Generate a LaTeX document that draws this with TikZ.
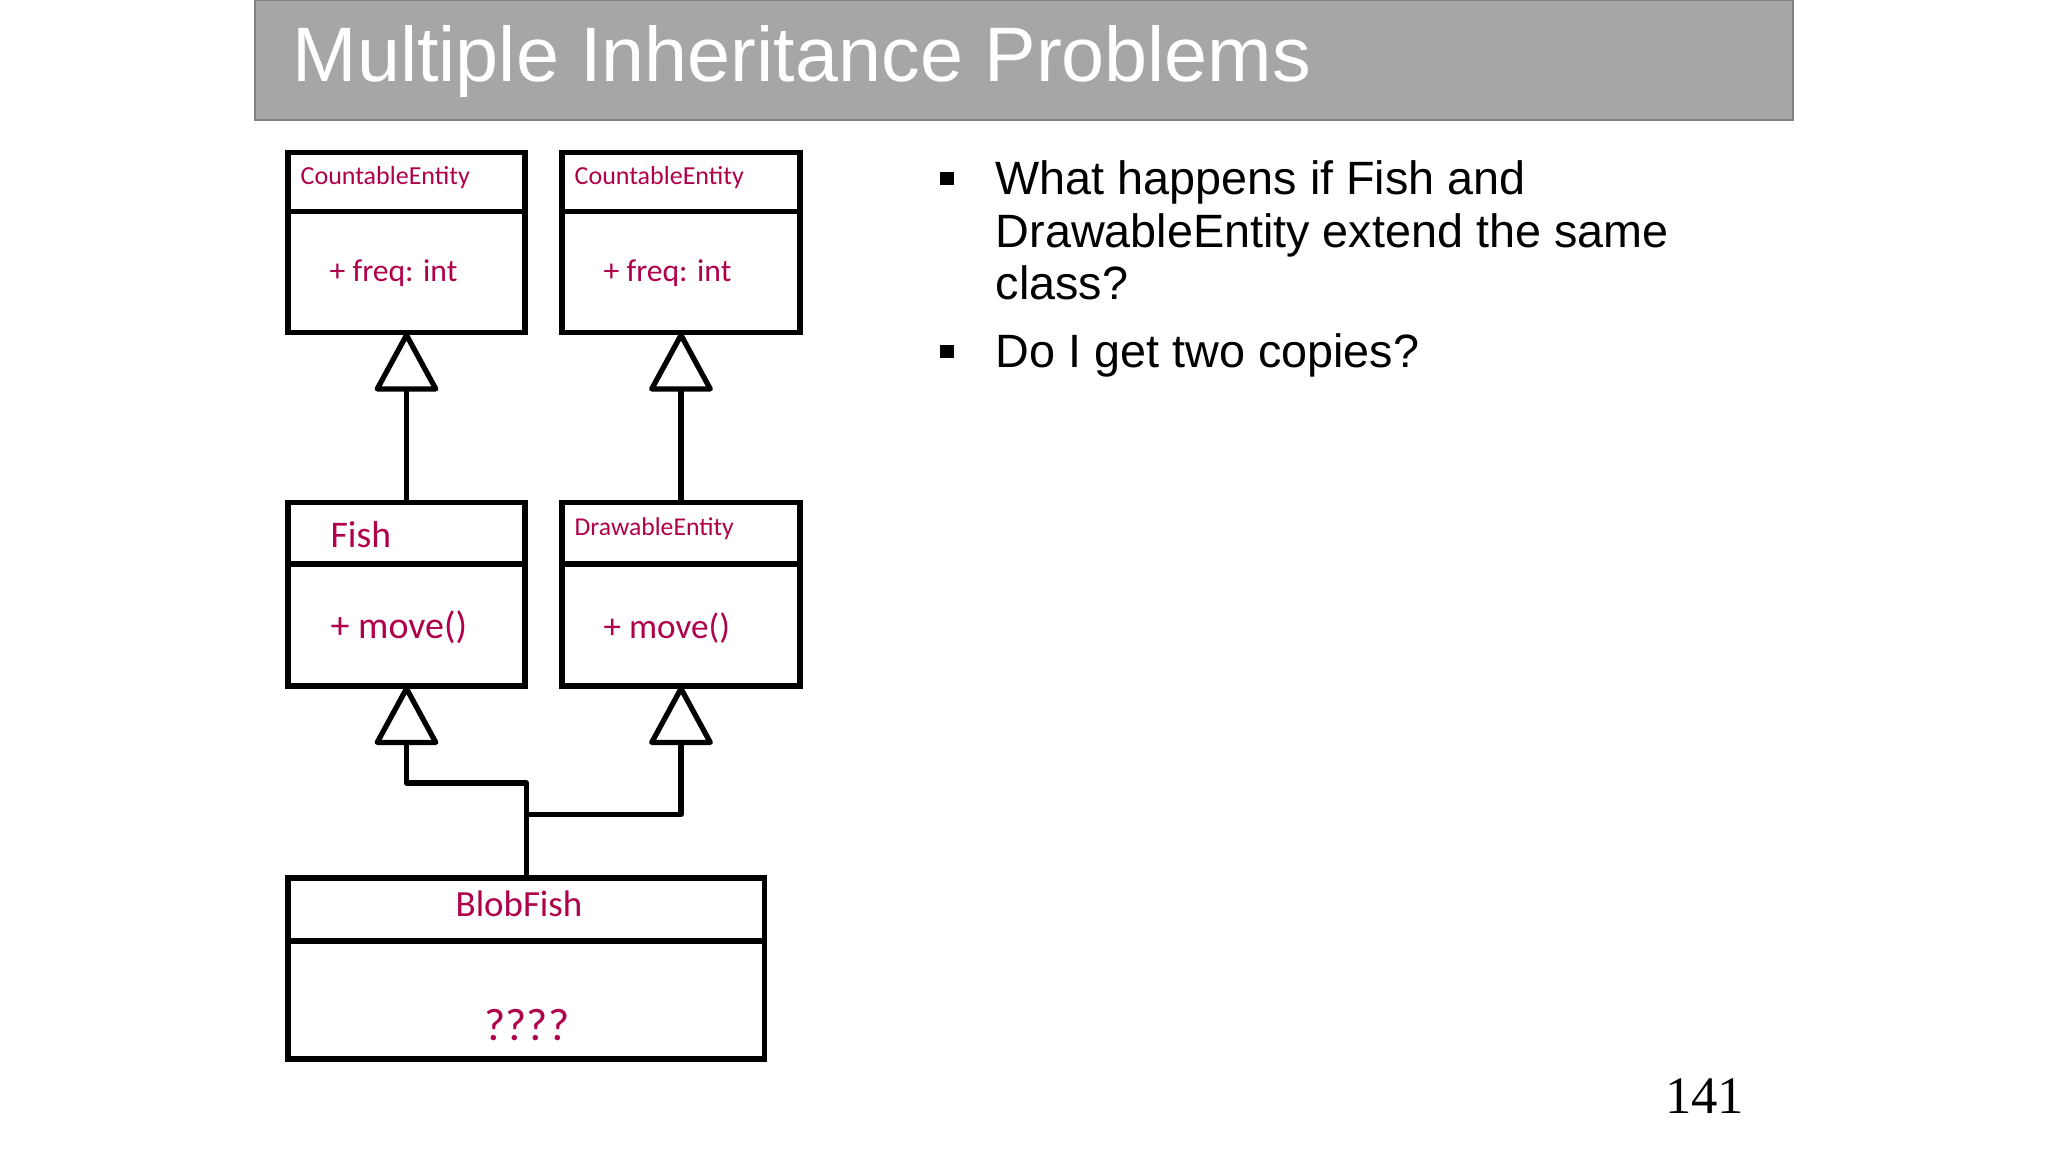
\documentclass[tikz,border=0pt]{standalone}
\usepackage{fontspec}
\setmainfont{Liberation Sans}
\newfontfamily\umlfont{Carlito}
\newfontfamily\pagefont{Liberation Serif}
\usepackage{tikz}
\usetikzlibrary{arrows.meta,positioning,calc}

\definecolor{umlred}{HTML}{B0004A}
\definecolor{titlegray}{HTML}{A6A6A6}
\definecolor{titleedge}{HTML}{808080}

\tikzset{
  umlbox/.style={draw,line width=1.5pt,inner sep=0pt,outer sep=0pt,anchor=north west},
  umltext/.style={text=umlred,inner sep=0pt,anchor=base west},
  inherit/.style={draw,line width=1.5pt,line join=round,
    -{Triangle[open,length=0.62cm,width=0.66cm,round]}},
  bulletbox/.style={fill=black,inner sep=0pt,minimum width=0.14cm,minimum height=0.13cm}
}

\begin{document}
\begin{tikzpicture}
    \useasboundingbox (0,0) rectangle (20.48,-11.52);

    % title bar
    \filldraw[fill=titlegray,draw=titleedge,line width=0.8pt] (2.55,0) rectangle (17.93,-1.20);
    \node[anchor=base west,inner sep=0pt,text=white,font=\fontsize{22}{26}\selectfont] (title) at (2.92,-0.82) {Multiple Inheritance Problems};

    % class boxes
    \node[umlbox,minimum width=2.37cm,minimum height=1.80cm] (ce1) at (2.88,-1.525) {};
    \node[umlbox,minimum width=2.38cm,minimum height=1.80cm] (ce2) at (5.62,-1.525) {};
    \node[umlbox,minimum width=2.37cm,minimum height=1.835cm] (fish) at (2.88,-5.025) {};
    \node[umlbox,minimum width=2.38cm,minimum height=1.835cm] (drawable) at (5.62,-5.025) {};
    \node[umlbox,minimum width=4.765cm,minimum height=1.81cm] (blob) at (2.88,-8.78) {};

    \draw[line width=1.5pt] ($(ce1.north west)+(0,-0.59)$) -- ($(ce1.north east)+(0,-0.59)$);
    \draw[line width=1.5pt] ($(ce2.north west)+(0,-0.59)$) -- ($(ce2.north east)+(0,-0.59)$);
    \draw[line width=1.5pt] ($(fish.north west)+(0,-0.615)$) -- ($(fish.north east)+(0,-0.615)$);
    \draw[line width=1.5pt] ($(drawable.north west)+(0,-0.615)$) -- ($(drawable.north east)+(0,-0.615)$);
    \draw[line width=1.5pt] ($(blob.north west)+(0,-0.63)$) -- ($(blob.north east)+(0,-0.63)$);

    % class texts
    \node[umltext,font=\umlfont\fontsize{7.4}{9}\selectfont] (ce1name) at (3.00,-1.85) {CountableEntity};
    \node[umltext,font=\umlfont\fontsize{9}{11}\selectfont] (ce1attr) at (3.29,-2.82) {+ freq: int};
    \node[umltext,font=\umlfont\fontsize{7.4}{9}\selectfont] (ce2name) at (5.74,-1.85) {CountableEntity};
    \node[umltext,font=\umlfont\fontsize{9}{11}\selectfont] (ce2attr) at (6.03,-2.82) {+ freq: int};
    \node[umltext,font=\umlfont\fontsize{10.7}{13}\selectfont] (fishname) at (3.30,-5.48) {Fish};
    \node[umltext,font=\umlfont\fontsize{10.8}{13}\selectfont] (fishop) at (3.30,-6.385) {+ move()};
    \node[umltext,font=\umlfont\fontsize{7.3}{9}\selectfont] (drawname) at (5.74,-5.357) {DrawableEntity};
    \node[umltext,font=\umlfont\fontsize{10}{12}\selectfont] (drawop) at (6.03,-6.385) {+ move()};
    \node[umltext,anchor=base,font=\umlfont\fontsize{10.5}{13}\selectfont] (blobname) at (5.19,-9.17) {BlobFish};
    \node[umltext,anchor=base,font=\umlfont\fontsize{13}{15}\selectfont] (blobop) at (5.27,-10.40) {????};

    % inheritance
    \coordinate[below=0.97cm of fish.south] (jl);
    \coordinate[below=1.285cm of drawable.south] (jr);
    \draw[inherit] (fish.north) -- (ce1.south);
    \draw[inherit] (drawable.north) -- (ce2.south);
    \draw[inherit] (blob.north) |- (jl) -- (fish.south);
    \draw[inherit] (blob.north |- jr) -- (jr) -- (drawable.south);

    % bullets
    \node[anchor=base west,inner sep=0pt,align=left,font=\fontsize{13.3}{15}\selectfont] (q1) at (9.95,-3.00) {What happens if Fish and\\DrawableEntity extend the same\\class?};
    \node[anchor=base west,inner sep=0pt,align=left,font=\fontsize{13.3}{15}\selectfont] (q2) at (9.95,-3.68) {Do I get two copies?};
    \node[bulletbox] (b1) at (9.47,-1.79) {};
    \node[bulletbox] (b2) at (9.47,-3.52) {};

    \node[anchor=base east,inner sep=0pt,font=\pagefont\fontsize{15}{18}\selectfont] (pageno) at (17.45,-11.13) {141};
\end{tikzpicture}
\end{document}
